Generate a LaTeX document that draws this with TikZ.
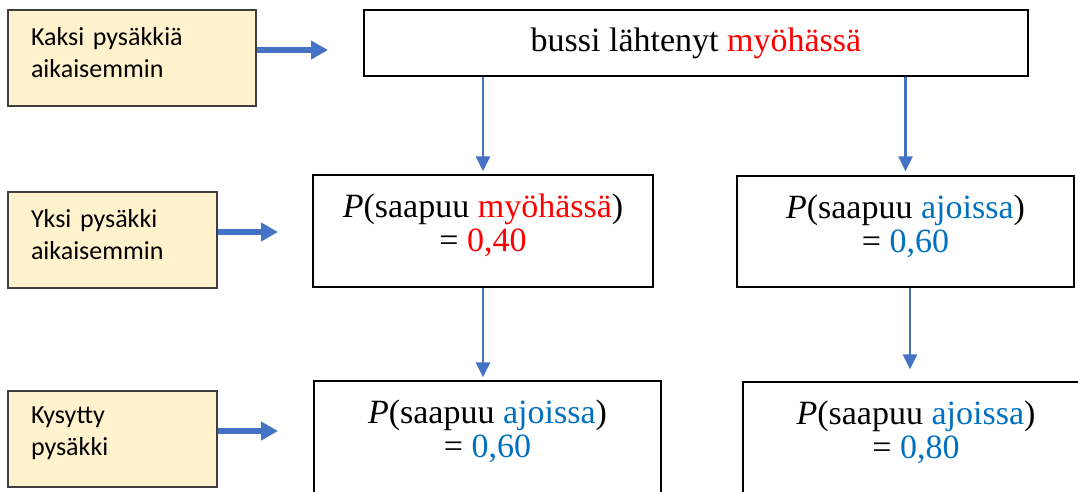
\documentclass[tikz,border=0pt]{standalone}
\usepackage{fontspec}
\setmainfont{Liberation Serif}
\newfontfamily\calib{Carlito}
\usetikzlibrary{arrows.meta,calc}
\definecolor{myred}{HTML}{FF0000}
\definecolor{myblue}{HTML}{0070C0}
\definecolor{arrowblue}{HTML}{4472C4}
\definecolor{labelfill}{HTML}{FFF2CC}
\definecolor{labeldraw}{HTML}{3F3F3F}
\newcommand{\lowstrut}[1]{\rule[-#1]{0pt}{1pt}}
\tikzset{
  labelbox/.style={draw=labeldraw, fill=labelfill, line width=1.5pt, align=left,
    inner xsep=23pt, inner ysep=0pt, minimum height=96pt,
    font=\calib\fontsize{26}{32}\selectfont},
  probbox/.style={draw=black, line width=1.3pt, align=center, inner sep=0pt,
    font=\fontsize{34}{34}\selectfont},
  thickarrow/.style={draw=arrowblue, line width=6pt, -{Triangle[length=17pt,width=18pt]}},
  thinarrow/.style={draw=arrowblue, line width=2.4pt, -{Triangle[length=15pt,width=14pt]}},
}
\begin{document}
\begin{tikzpicture}[x=1pt,y=-1pt]
\useasboundingbox (0,0) rectangle (1078,491);
\clip (0,0) rectangle (1078,491);
% label boxes
\node[labelbox, text width=202pt] (k1) at (132,58) {Kaksi pysäkkiä\\aikaisemmin\lowstrut{12pt}};
\node[labelbox, text width=163pt] (y1) at (112.5,240) {Yksi pysäkki\\aikaisemmin\lowstrut{12pt}};
\node[labelbox, text width=163pt] (k3) at (112.5,439) {Kysytty\\pysäkki\lowstrut{16pt}};
% probability boxes
\node[probbox, minimum width=664pt, minimum height=66pt] (top) at (696,43)
  {bussi lähtenyt \textcolor{myred}{myöhässä}};
\node[probbox, minimum width=340pt, minimum height=112pt] (ml) at (483,231)
  {\textit{P}(saapuu \textcolor{myred}{myöhässä})\\= \textcolor{myred}{0,40}\lowstrut{16pt}};
\node[probbox, minimum width=337pt, minimum height=111pt] (mr) at (905.5,231.5)
  {\textit{P}(saapuu \textcolor{myblue}{ajoissa})\\= \textcolor{myblue}{0,60}\lowstrut{16pt}};
\node[probbox, minimum width=347pt, minimum height=112pt] (bl) at (487.5,437)
  {\textit{P}(saapuu \textcolor{myblue}{ajoissa})\\= \textcolor{myblue}{0,60}\lowstrut{16pt}};
\node[probbox, minimum width=346pt, minimum height=112pt] (br) at (916,438)
  {\textit{P}(saapuu \textcolor{myblue}{ajoissa})\\= \textcolor{myblue}{0,80}\lowstrut{16pt}};
% thick arrows from labels
\coordinate (a1) at (328,50);
\coordinate (a2) at (278,232);
\coordinate (a3) at (278,431);
\draw[thickarrow] (k1.east |- a1) -- (a1);
\draw[thickarrow] (y1.east |- a2) -- (a2);
\draw[thickarrow] (k3.east |- a3) -- (a3);
% thin arrows
\draw[thinarrow, shorten >=3pt] (ml.north |- top.south) -- (ml.north);
\draw[thinarrow, shorten >=4pt] (mr.north |- top.south) -- (mr.north);
\draw[thinarrow, shorten >=3pt] (ml.south) -- (ml.south |- bl.north);
\draw[thinarrow, shorten >=12pt] ([xshift=4.5pt]mr.south) -- ([xshift=4.5pt]mr.south |- br.north);
\end{tikzpicture}
\end{document}
